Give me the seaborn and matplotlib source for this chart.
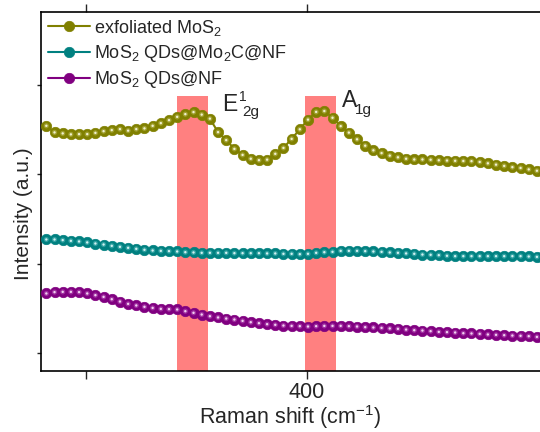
import numpy as np
import pandas as pd
import matplotlib
matplotlib.use("Agg")
import matplotlib.pyplot as plt
import seaborn as sns

# Raman shift grid (cm-1)
shift = [341.0, 342.85, 344.7, 346.55, 348.4, 350.25, 352.1, 353.95, 355.8, 357.65,
         359.5, 361.35, 363.2, 365.05, 366.9, 368.75, 370.6, 372.45, 374.3, 376.15,
         378.0, 379.85, 381.7, 383.55, 385.4, 387.25, 389.1, 390.95, 392.8, 394.65,
         396.5, 398.35, 400.2, 402.05, 403.9, 405.75, 407.6, 409.45, 411.3, 413.15,
         415.0, 416.85, 418.7, 420.55, 422.4, 424.25, 426.1, 427.95, 429.8, 431.65,
         433.5, 435.35, 437.2, 439.05, 440.9, 442.75, 444.6, 446.45, 448.3, 450.15,
         452.0]

exfoliated = [2.540, 2.466, 2.455, 2.444, 2.447, 2.447, 2.461, 2.480, 2.492, 2.503,
              2.486, 2.503, 2.511, 2.540, 2.570, 2.603, 2.640, 2.670, 2.693, 2.665,
              2.620, 2.469, 2.380, 2.282, 2.215, 2.172, 2.156, 2.162, 2.227, 2.293,
              2.394, 2.501, 2.609, 2.695, 2.705, 2.630, 2.536, 2.464, 2.389, 2.318,
              2.266, 2.235, 2.207, 2.188, 2.172, 2.164, 2.164, 2.161, 2.155, 2.152,
              2.149, 2.147, 2.145, 2.136, 2.121, 2.106, 2.092, 2.078, 2.069, 2.053,
              2.038]

mo2c = [1.270, 1.270, 1.263, 1.255, 1.248, 1.237, 1.225, 1.214, 1.199, 1.188,
        1.177, 1.166, 1.155, 1.147, 1.143, 1.140, 1.136, 1.128, 1.125, 1.121,
        1.121, 1.121, 1.121, 1.117, 1.117, 1.117, 1.117, 1.114, 1.114, 1.110,
        1.110, 1.106, 1.110, 1.121, 1.128, 1.132, 1.143, 1.143, 1.143, 1.140,
        1.136, 1.132, 1.125, 1.121, 1.114, 1.110, 1.102, 1.099, 1.095, 1.088,
        1.084, 1.084, 1.084, 1.084, 1.084, 1.084, 1.084, 1.084, 1.084, 1.080,
        1.076]

nf = [0.667, 0.682, 0.685, 0.685, 0.682, 0.667, 0.648, 0.629, 0.603, 0.577,
      0.551, 0.533, 0.518, 0.506, 0.495, 0.492, 0.488, 0.469, 0.451, 0.432,
      0.413, 0.399, 0.387, 0.376, 0.361, 0.346, 0.335, 0.324, 0.317, 0.309,
      0.305, 0.302, 0.298, 0.302, 0.305, 0.305, 0.305, 0.302, 0.298, 0.291,
      0.287, 0.283, 0.276, 0.272, 0.264, 0.257, 0.253, 0.246, 0.238, 0.235,
      0.231, 0.223, 0.220, 0.216, 0.209, 0.205, 0.201, 0.197, 0.194, 0.190,
      0.182]

labels = ["exfoliated MoS$_2$", "MoS$_2$ QDs@Mo$_2$C@NF", "MoS$_2$ QDs@NF"]
colors = ["#808000", "#008080", "#800080"]
mid = ["#a0a030", "#30a0a0", "#a030a0"]
shine = ["#f0f0d0", "#d0f0f0", "#f0d0f0"]

bands = [(370.6, 377.6), (399.5, 406.6)]

sns.set_style("ticks")
plt.rcParams["font.family"] = ["Liberation Sans", "DejaVu Sans"]
plt.rcParams["mathtext.fontset"] = "custom"
plt.rcParams["mathtext.rm"] = "Liberation Sans"
plt.rcParams["mathtext.it"] = "Liberation Sans"

fig = plt.figure(figsize=(5.4, 4.32), dpi=100)
ax = fig.add_axes([0.076, 0.141, 0.924, 0.831])

for lo, hi in bands:
    ax.axvspan(lo, hi, ymin=0, ymax=0.766, color="#ff8080", lw=0, zorder=0)

for ys, lab, c, m, s in zip([exfoliated, mo2c, nf], labels, colors, mid, shine):
    df = pd.DataFrame({"shift": shift, "intensity": ys})
    sns.lineplot(data=df, x="shift", y="intensity", ax=ax, color=c, label=lab,
                 marker="o", markersize=7.5, markeredgecolor=c, markeredgewidth=0.5,
                 linewidth=1.5, sort=False, zorder=3)
    sns.scatterplot(data=df, x="shift", y="intensity", ax=ax, color=m, s=14,
                    edgecolor="none", zorder=4, legend=False)
    sns.scatterplot(data=df, x="shift", y="intensity", ax=ax, color=s, s=3,
                    edgecolor="none", zorder=5, legend=False)

ax.text(380.8, 2.70, "E", fontsize=16.5, ha="left", va="baseline")
ax.text(384.6, 2.82, "1", fontsize=10, ha="left", va="baseline")
ax.text(385.3, 2.65, "2g", fontsize=11, ha="left", va="baseline")
ax.text(407.9, 2.75, "A", fontsize=16.5, ha="left", va="baseline")
ax.text(410.9, 2.67, "1g", fontsize=11, ha="left", va="baseline")

ax.set_xlim(339.8, 452.7)
ax.set_ylim(-0.2, 3.81)
ax.set_xticks([350, 400])
ax.set_xticklabels(["", "400"])
ax.set_yticks([0, 1, 2, 3])
ax.set_yticklabels([])
ax.tick_params(axis="x", direction="out", length=6, width=1, labelsize=15.5,
               top=True, pad=2)
ax.tick_params(axis="y", direction="out", length=3, width=1)
for side in ["left", "bottom", "top"]:
    ax.spines[side].set_linewidth(1.2)
    ax.spines[side].set_color("black")
ax.spines["right"].set_visible(False)

ax.set_xlabel("Raman shift (cm$^{-1}$)", fontsize=15.5, labelpad=0)
ax.set_ylabel("Intensity (a.u.)", fontsize=15)
ax.yaxis.set_label_coords(-0.016, 0.438)

leg = ax.legend(loc="upper left", frameon=False, fontsize=13, handlelength=2.3,
                handletextpad=0.25, labelspacing=0.3, borderaxespad=0.0,
                bbox_to_anchor=(0.0, 1.005))

fig.savefig("out.png", dpi=100)
